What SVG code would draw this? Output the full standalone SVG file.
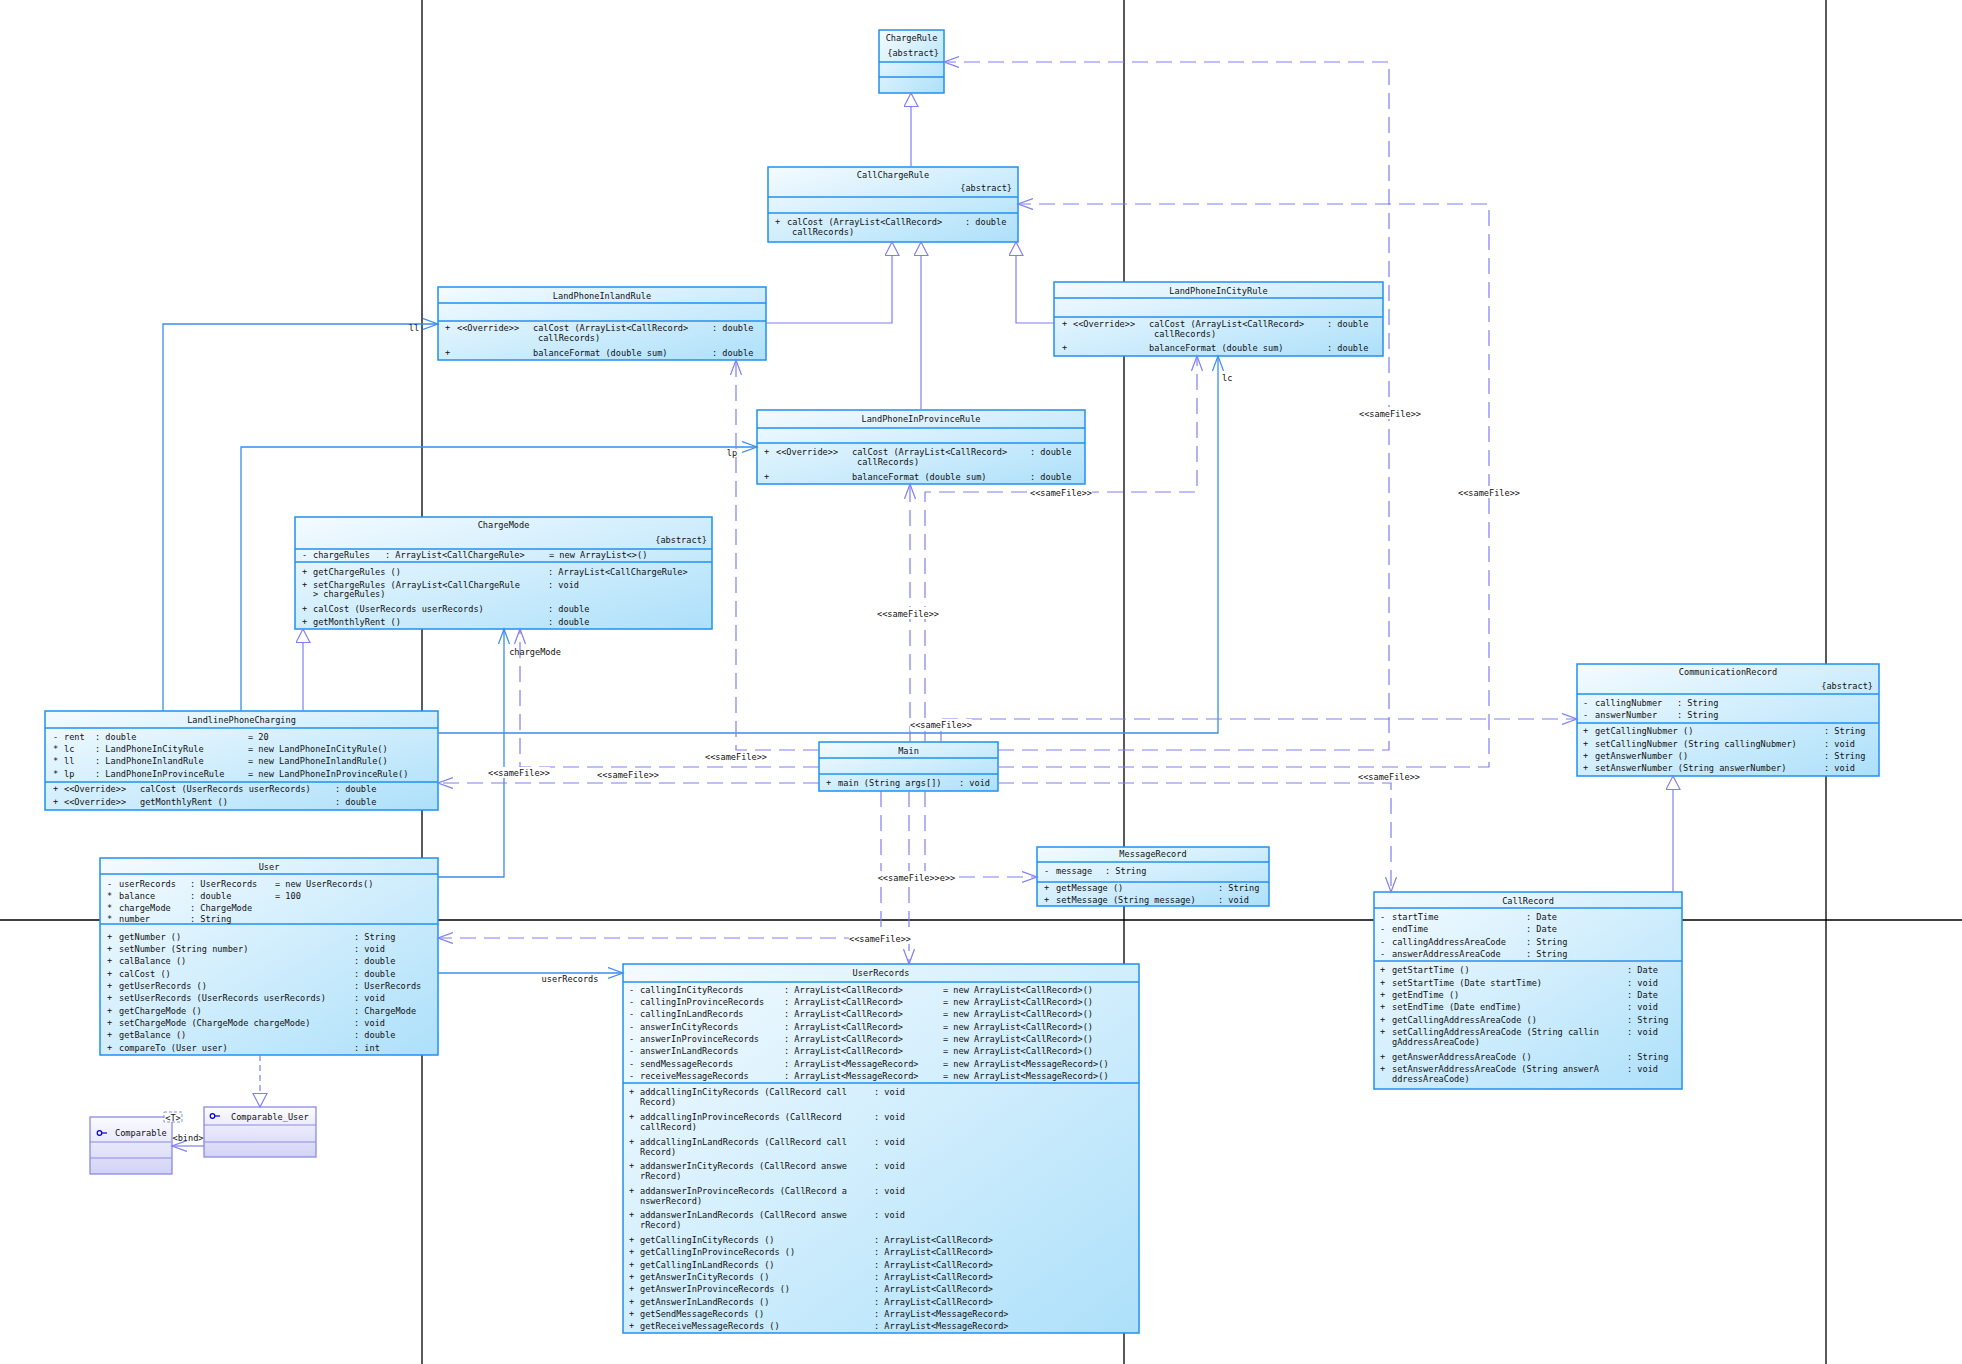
<svg xmlns="http://www.w3.org/2000/svg" width="1962" height="1364" viewBox="0 0 1962 1364">
<defs>
<linearGradient id="gb" x1="0" y1="0" x2="1" y2="1">
<stop offset="0" stop-color="#f4fbff"/>
<stop offset="1" stop-color="#ade0fa"/>
</linearGradient>
<linearGradient id="gp" x1="0" y1="0" x2="0" y2="1">
<stop offset="0" stop-color="#fbfbff"/>
<stop offset="1" stop-color="#d2d2f6"/>
</linearGradient>
<marker id="oP" markerUnits="userSpaceOnUse" markerWidth="18" markerHeight="14" refX="15" refY="6" orient="auto">
<path d="M0,0.5 L15,6 L0,11.5" fill="none" stroke="#7f7ff2" stroke-width="1.2"/>
</marker>
<marker id="oB" markerUnits="userSpaceOnUse" markerWidth="18" markerHeight="14" refX="15" refY="6" orient="auto">
<path d="M0,0.5 L15,6 L0,11.5" fill="none" stroke="#3b8cf0" stroke-width="1.2"/>
</marker>
<marker id="tri" markerUnits="userSpaceOnUse" markerWidth="18" markerHeight="18" refX="14" refY="7.5" orient="auto">
<path d="M0.5,0.5 L14,7.5 L0.5,14.5 Z" fill="#fff" stroke="#7f7ff2" stroke-width="1.2"/>
</marker>
</defs>
<style>
.box{fill:url(#gb);stroke:#2090f0;stroke-width:1.5}
.dv{stroke:#2090f0;stroke-width:1.3}
.pbox{fill:url(#gp);stroke:#8a8ae6;stroke-width:1.3}
.pdv{stroke:#8a8ae6;stroke-width:1}
.t{font-family:'DejaVu Sans Mono','Liberation Mono',monospace;font-size:8.6px;fill:#111}
.c{text-anchor:middle}
.e{text-anchor:end}
.pg{stroke:#000;stroke-width:1.3}
.gen{fill:none;stroke:#7f7ff2;stroke-width:1.2;marker-end:url(#tri)}
.asc{fill:none;stroke:#3b8cf0;stroke-width:1.3;marker-end:url(#oB)}
.dep{fill:none;stroke:#7f7ff2;stroke-width:1.2;stroke-dasharray:16 8;marker-end:url(#oP)}
.lb{fill:#fff}
.ic{fill:none;stroke:#0000d0;stroke-width:1.2}
</style>
<rect x="0" y="0" width="1962" height="1364" fill="#fff"/>
<g id="pagebreaks">
<line class="pg" x1="422" y1="0" x2="422" y2="1364"/>
<line class="pg" x1="1124" y1="0" x2="1124" y2="1364"/>
<line class="pg" x1="1826" y1="0" x2="1826" y2="1364"/>
<line class="pg" x1="0" y1="920" x2="1962" y2="920"/>
</g>

<g id="ChargeRule">
<rect class="box" x="879" y="30" width="65" height="63"/>
<line class="dv" x1="879" y1="62" x2="944" y2="62"/>
<line class="dv" x1="879" y1="77" x2="944" y2="77"/>
<text class="t c" x="911.5" y="40.5">ChargeRule</text>
<text class="t e" x="939" y="55.5">{abstract}</text>
</g>

<g id="CallChargeRule">
<rect class="box" x="768" y="167" width="250" height="75"/>
<line class="dv" x1="768" y1="197" x2="1018" y2="197"/>
<line class="dv" x1="768" y1="213" x2="1018" y2="213"/>
<text class="t c" x="893" y="177.5">CallChargeRule</text>
<text class="t e" x="1012" y="190.5">{abstract}</text>
<text class="t" x="775" y="224.5">+</text>
<text class="t" x="787" y="224.5">calCost (ArrayList&lt;CallRecord&gt;</text>
<text class="t" x="965" y="224.5">: double</text>
<text class="t" x="792" y="234.5">callRecords)</text>
</g>

<g id="LandPhoneInlandRule">
<rect class="box" x="438" y="287" width="328" height="73"/>
<line class="dv" x1="438" y1="303" x2="766" y2="303"/>
<line class="dv" x1="438" y1="321" x2="766" y2="321"/>
<text class="t c" x="602" y="298.5">LandPhoneInlandRule</text>
<text class="t" x="445" y="330.5">+</text>
<text class="t" x="457" y="330.5">&lt;&lt;Override&gt;&gt;</text>
<text class="t" x="533" y="330.5">calCost (ArrayList&lt;CallRecord&gt;</text>
<text class="t" x="712" y="330.5">: double</text>
<text class="t" x="538" y="340.5">callRecords)</text>
<text class="t" x="445" y="355.5">+</text>
<text class="t" x="533" y="355.5">balanceFormat (double sum)</text>
<text class="t" x="712" y="355.5">: double</text>
</g>

<g id="LandPhoneInCityRule">
<rect class="box" x="1054" y="282" width="329" height="74"/>
<line class="dv" x1="1054" y1="298" x2="1383" y2="298"/>
<line class="dv" x1="1054" y1="317" x2="1383" y2="317"/>
<text class="t c" x="1218.5" y="293.5">LandPhoneInCityRule</text>
<text class="t" x="1062" y="326.5">+</text>
<text class="t" x="1073" y="326.5">&lt;&lt;Override&gt;&gt;</text>
<text class="t" x="1149" y="326.5">calCost (ArrayList&lt;CallRecord&gt;</text>
<text class="t" x="1327" y="326.5">: double</text>
<text class="t" x="1154" y="336.5">callRecords)</text>
<text class="t" x="1062" y="350.5">+</text>
<text class="t" x="1149" y="350.5">balanceFormat (double sum)</text>
<text class="t" x="1327" y="350.5">: double</text>
</g>

<g id="LandPhoneInProvinceRule">
<rect class="box" x="757" y="410" width="328" height="74"/>
<line class="dv" x1="757" y1="428" x2="1085" y2="428"/>
<line class="dv" x1="757" y1="443" x2="1085" y2="443"/>
<text class="t c" x="921" y="421.5">LandPhoneInProvinceRule</text>
<text class="t" x="764" y="454.5">+</text>
<text class="t" x="776" y="454.5">&lt;&lt;Override&gt;&gt;</text>
<text class="t" x="852" y="454.5">calCost (ArrayList&lt;CallRecord&gt;</text>
<text class="t" x="1030" y="454.5">: double</text>
<text class="t" x="857" y="464.5">callRecords)</text>
<text class="t" x="764" y="479.5">+</text>
<text class="t" x="852" y="479.5">balanceFormat (double sum)</text>
<text class="t" x="1030" y="479.5">: double</text>
</g>

<g id="ChargeMode">
<rect class="box" x="295" y="517" width="417" height="112"/>
<line class="dv" x1="295" y1="549" x2="712" y2="549"/>
<line class="dv" x1="295" y1="562" x2="712" y2="562"/>
<text class="t c" x="503.5" y="527.5">ChargeMode</text>
<text class="t e" x="707" y="542.5">{abstract}</text>
<text class="t" x="302" y="557.5">-</text>
<text class="t" x="313" y="557.5">chargeRules</text>
<text class="t" x="385" y="557.5">: ArrayList&lt;CallChargeRule&gt;</text>
<text class="t" x="549" y="557.5">= new ArrayList&lt;&gt;()</text>
<text class="t" x="302" y="574.5">+</text>
<text class="t" x="313" y="574.5">getChargeRules ()</text>
<text class="t" x="548" y="574.5">: ArrayList&lt;CallChargeRule&gt;</text>
<text class="t" x="302" y="587.5">+</text>
<text class="t" x="313" y="587.5">setChargeRules (ArrayList&lt;CallChargeRule</text>
<text class="t" x="548" y="587.5">: void</text>
<text class="t" x="313" y="596.5">&gt; chargeRules)</text>
<text class="t" x="302" y="611.5">+</text>
<text class="t" x="313" y="611.5">calCost (UserRecords userRecords)</text>
<text class="t" x="548" y="611.5">: double</text>
<text class="t" x="302" y="624.5">+</text>
<text class="t" x="313" y="624.5">getMonthlyRent ()</text>
<text class="t" x="548" y="624.5">: double</text>
</g>

<g id="LandlinePhoneCharging">
<rect class="box" x="45" y="711" width="393" height="99"/>
<line class="dv" x1="45" y1="728" x2="438" y2="728"/>
<line class="dv" x1="45" y1="782" x2="438" y2="782"/>
<text class="t c" x="241.5" y="722.5">LandlinePhoneCharging</text>
<text class="t" x="53" y="739.5">-</text><text class="t" x="64" y="739.5">rent</text><text class="t" x="95" y="739.5">: double</text><text class="t" x="248" y="739.5">= 20</text>
<text class="t" x="53" y="751.5">*</text><text class="t" x="64" y="751.5">lc</text><text class="t" x="95" y="751.5">: LandPhoneInCityRule</text><text class="t" x="248" y="751.5">= new LandPhoneInCityRule()</text>
<text class="t" x="53" y="763.5">*</text><text class="t" x="64" y="763.5">ll</text><text class="t" x="95" y="763.5">: LandPhoneInlandRule</text><text class="t" x="248" y="763.5">= new LandPhoneInlandRule()</text>
<text class="t" x="53" y="776.5">*</text><text class="t" x="64" y="776.5">lp</text><text class="t" x="95" y="776.5">: LandPhoneInProvinceRule</text><text class="t" x="248" y="776.5">= new LandPhoneInProvinceRule()</text>
<text class="t" x="53" y="791.5">+</text><text class="t" x="64" y="791.5">&lt;&lt;Override&gt;&gt;</text><text class="t" x="140" y="791.5">calCost (UserRecords userRecords)</text><text class="t" x="335" y="791.5">: double</text>
<text class="t" x="53" y="804.5">+</text><text class="t" x="64" y="804.5">&lt;&lt;Override&gt;&gt;</text><text class="t" x="140" y="804.5">getMonthlyRent ()</text><text class="t" x="335" y="804.5">: double</text>
</g>

<g id="Main">
<rect class="box" x="819" y="742" width="179" height="49"/>
<line class="dv" x1="819" y1="758" x2="998" y2="758"/>
<line class="dv" x1="819" y1="774" x2="998" y2="774"/>
<text class="t c" x="908.5" y="753.5">Main</text>
<text class="t" x="826" y="785.5">+</text>
<text class="t" x="838" y="785.5">main (String args[])</text>
<text class="t" x="959" y="785.5">: void</text>
</g>

<g id="MessageRecord">
<rect class="box" x="1037" y="847" width="232" height="59"/>
<line class="dv" x1="1037" y1="862" x2="1269" y2="862"/>
<line class="dv" x1="1037" y1="882" x2="1269" y2="882"/>
<text class="t c" x="1153" y="856.5">MessageRecord</text>
<text class="t" x="1044" y="873.5">-</text><text class="t" x="1056" y="873.5">message</text><text class="t" x="1105" y="873.5">: String</text>
<text class="t" x="1044" y="890.5">+</text><text class="t" x="1056" y="890.5">getMessage ()</text><text class="t" x="1218" y="890.5">: String</text>
<text class="t" x="1044" y="902.5">+</text><text class="t" x="1056" y="902.5">setMessage (String message)</text><text class="t" x="1218" y="902.5">: void</text>
</g>

<g id="User">
<rect class="box" x="100" y="858" width="338" height="197"/>
<line class="dv" x1="100" y1="874" x2="438" y2="874"/>
<line class="dv" x1="100" y1="924" x2="438" y2="924"/>
<text class="t c" x="269" y="869.5">User</text>
<text class="t" x="107" y="886.5">-</text><text class="t" x="119" y="886.5">userRecords</text><text class="t" x="190" y="886.5">: UserRecords</text><text class="t" x="275" y="886.5">= new UserRecords()</text>
<text class="t" x="107" y="898.5">*</text><text class="t" x="119" y="898.5">balance</text><text class="t" x="190" y="898.5">: double</text><text class="t" x="275" y="898.5">= 100</text>
<text class="t" x="107" y="910.5">*</text><text class="t" x="119" y="910.5">chargeMode</text><text class="t" x="190" y="910.5">: ChargeMode</text>
<text class="t" x="107" y="922">*</text><text class="t" x="119" y="922">number</text><text class="t" x="190" y="922">: String</text>
<text class="t" x="107" y="939.5">+</text><text class="t" x="119" y="939.5">getNumber ()</text><text class="t" x="354" y="939.5">: String</text>
<text class="t" x="107" y="951.5">+</text><text class="t" x="119" y="951.5">setNumber (String number)</text><text class="t" x="354" y="951.5">: void</text>
<text class="t" x="107" y="963.5">+</text><text class="t" x="119" y="963.5">calBalance ()</text><text class="t" x="354" y="963.5">: double</text>
<text class="t" x="107" y="976.5">+</text><text class="t" x="119" y="976.5">calCost ()</text><text class="t" x="354" y="976.5">: double</text>
<text class="t" x="107" y="988.5">+</text><text class="t" x="119" y="988.5">getUserRecords ()</text><text class="t" x="354" y="988.5">: UserRecords</text>
<text class="t" x="107" y="1000.5">+</text><text class="t" x="119" y="1000.5">setUserRecords (UserRecords userRecords)</text><text class="t" x="354" y="1000.5">: void</text>
<text class="t" x="107" y="1013.5">+</text><text class="t" x="119" y="1013.5">getChargeMode ()</text><text class="t" x="354" y="1013.5">: ChargeMode</text>
<text class="t" x="107" y="1025.5">+</text><text class="t" x="119" y="1025.5">setChargeMode (ChargeMode chargeMode)</text><text class="t" x="354" y="1025.5">: void</text>
<text class="t" x="107" y="1037.5">+</text><text class="t" x="119" y="1037.5">getBalance ()</text><text class="t" x="354" y="1037.5">: double</text>
<text class="t" x="107" y="1050.5">+</text><text class="t" x="119" y="1050.5">compareTo (User user)</text><text class="t" x="354" y="1050.5">: int</text>
</g>

<g id="UserRecords">
<rect class="box" x="623" y="964" width="516" height="369"/>
<line class="dv" x1="623" y1="982" x2="1139" y2="982"/>
<line class="dv" x1="623" y1="1083" x2="1139" y2="1083"/>
<text class="t c" x="881" y="975.5">UserRecords</text>
<text class="t" x="629" y="992.5">-</text><text class="t" x="640" y="992.5">callingInCityRecords</text><text class="t" x="784" y="992.5">: ArrayList&lt;CallRecord&gt;</text><text class="t" x="943" y="992.5">= new ArrayList&lt;CallRecord&gt;()</text>
<text class="t" x="629" y="1004.5">-</text><text class="t" x="640" y="1004.5">callingInProvinceRecords</text><text class="t" x="784" y="1004.5">: ArrayList&lt;CallRecord&gt;</text><text class="t" x="943" y="1004.5">= new ArrayList&lt;CallRecord&gt;()</text>
<text class="t" x="629" y="1016.5">-</text><text class="t" x="640" y="1016.5">callingInLandRecords</text><text class="t" x="784" y="1016.5">: ArrayList&lt;CallRecord&gt;</text><text class="t" x="943" y="1016.5">= new ArrayList&lt;CallRecord&gt;()</text>
<text class="t" x="629" y="1029.5">-</text><text class="t" x="640" y="1029.5">answerInCityRecords</text><text class="t" x="784" y="1029.5">: ArrayList&lt;CallRecord&gt;</text><text class="t" x="943" y="1029.5">= new ArrayList&lt;CallRecord&gt;()</text>
<text class="t" x="629" y="1041.5">-</text><text class="t" x="640" y="1041.5">answerInProvinceRecords</text><text class="t" x="784" y="1041.5">: ArrayList&lt;CallRecord&gt;</text><text class="t" x="943" y="1041.5">= new ArrayList&lt;CallRecord&gt;()</text>
<text class="t" x="629" y="1053.5">-</text><text class="t" x="640" y="1053.5">answerInLandRecords</text><text class="t" x="784" y="1053.5">: ArrayList&lt;CallRecord&gt;</text><text class="t" x="943" y="1053.5">= new ArrayList&lt;CallRecord&gt;()</text>
<text class="t" x="629" y="1066.5">-</text><text class="t" x="640" y="1066.5">sendMessageRecords</text><text class="t" x="784" y="1066.5">: ArrayList&lt;MessageRecord&gt;</text><text class="t" x="943" y="1066.5">= new ArrayList&lt;MessageRecord&gt;()</text>
<text class="t" x="629" y="1078.5">-</text><text class="t" x="640" y="1078.5">receiveMessageRecords</text><text class="t" x="784" y="1078.5">: ArrayList&lt;MessageRecord&gt;</text><text class="t" x="943" y="1078.5">= new ArrayList&lt;MessageRecord&gt;()</text>
<text class="t" x="629" y="1094.5">+</text><text class="t" x="640" y="1094.5">addcallingInCityRecords (CallRecord call</text><text class="t" x="874" y="1094.5">: void</text>
<text class="t" x="640" y="1104.5">Record)</text>
<text class="t" x="629" y="1119.5">+</text><text class="t" x="640" y="1119.5">addcallingInProvinceRecords (CallRecord</text><text class="t" x="874" y="1119.5">: void</text>
<text class="t" x="640" y="1129.5">callRecord)</text>
<text class="t" x="629" y="1144.5">+</text><text class="t" x="640" y="1144.5">addcallingInLandRecords (CallRecord call</text><text class="t" x="874" y="1144.5">: void</text>
<text class="t" x="640" y="1154.5">Record)</text>
<text class="t" x="629" y="1168.5">+</text><text class="t" x="640" y="1168.5">addanswerInCityRecords (CallRecord answe</text><text class="t" x="874" y="1168.5">: void</text>
<text class="t" x="640" y="1178.5">rRecord)</text>
<text class="t" x="629" y="1193.5">+</text><text class="t" x="640" y="1193.5">addanswerInProvinceRecords (CallRecord a</text><text class="t" x="874" y="1193.5">: void</text>
<text class="t" x="640" y="1203.5">nswerRecord)</text>
<text class="t" x="629" y="1217.5">+</text><text class="t" x="640" y="1217.5">addanswerInLandRecords (CallRecord answe</text><text class="t" x="874" y="1217.5">: void</text>
<text class="t" x="640" y="1227.5">rRecord)</text>
<text class="t" x="629" y="1242.5">+</text><text class="t" x="640" y="1242.5">getCallingInCityRecords ()</text><text class="t" x="874" y="1242.5">: ArrayList&lt;CallRecord&gt;</text>
<text class="t" x="629" y="1254.5">+</text><text class="t" x="640" y="1254.5">getCallingInProvinceRecords ()</text><text class="t" x="874" y="1254.5">: ArrayList&lt;CallRecord&gt;</text>
<text class="t" x="629" y="1267.5">+</text><text class="t" x="640" y="1267.5">getCallingInLandRecords ()</text><text class="t" x="874" y="1267.5">: ArrayList&lt;CallRecord&gt;</text>
<text class="t" x="629" y="1279.5">+</text><text class="t" x="640" y="1279.5">getAnswerInCityRecords ()</text><text class="t" x="874" y="1279.5">: ArrayList&lt;CallRecord&gt;</text>
<text class="t" x="629" y="1291.5">+</text><text class="t" x="640" y="1291.5">getAnswerInProvinceRecords ()</text><text class="t" x="874" y="1291.5">: ArrayList&lt;CallRecord&gt;</text>
<text class="t" x="629" y="1304.5">+</text><text class="t" x="640" y="1304.5">getAnswerInLandRecords ()</text><text class="t" x="874" y="1304.5">: ArrayList&lt;CallRecord&gt;</text>
<text class="t" x="629" y="1316.5">+</text><text class="t" x="640" y="1316.5">getSendMessageRecords ()</text><text class="t" x="874" y="1316.5">: ArrayList&lt;MessageRecord&gt;</text>
<text class="t" x="629" y="1328.5">+</text><text class="t" x="640" y="1328.5">getReceiveMessageRecords ()</text><text class="t" x="874" y="1328.5">: ArrayList&lt;MessageRecord&gt;</text>
</g>

<g id="CommunicationRecord">
<rect class="box" x="1577" y="664" width="302" height="112"/>
<line class="dv" x1="1577" y1="694" x2="1879" y2="694"/>
<line class="dv" x1="1577" y1="723" x2="1879" y2="723"/>
<text class="t c" x="1728" y="674.5">CommunicationRecord</text>
<text class="t e" x="1873" y="688.5">{abstract}</text>
<text class="t" x="1583" y="705.5">-</text><text class="t" x="1595" y="705.5">callingNubmer</text><text class="t" x="1677" y="705.5">: String</text>
<text class="t" x="1583" y="717.5">-</text><text class="t" x="1595" y="717.5">answerNumber</text><text class="t" x="1677" y="717.5">: String</text>
<text class="t" x="1583" y="733.5">+</text><text class="t" x="1595" y="733.5">getCallingNubmer ()</text><text class="t" x="1824" y="733.5">: String</text>
<text class="t" x="1583" y="746.5">+</text><text class="t" x="1595" y="746.5">setCallingNubmer (String callingNubmer)</text><text class="t" x="1824" y="746.5">: void</text>
<text class="t" x="1583" y="758.5">+</text><text class="t" x="1595" y="758.5">getAnswerNumber ()</text><text class="t" x="1824" y="758.5">: String</text>
<text class="t" x="1583" y="770.5">+</text><text class="t" x="1595" y="770.5">setAnswerNumber (String answerNumber)</text><text class="t" x="1824" y="770.5">: void</text>
</g>

<g id="CallRecord">
<rect class="box" x="1374" y="892" width="308" height="197"/>
<line class="dv" x1="1374" y1="908" x2="1682" y2="908"/>
<line class="dv" x1="1374" y1="961" x2="1682" y2="961"/>
<text class="t c" x="1528" y="903.5">CallRecord</text>
<text class="t" x="1380" y="919.5">-</text><text class="t" x="1392" y="919.5">startTime</text><text class="t" x="1526" y="919.5">: Date</text>
<text class="t" x="1380" y="931.5">-</text><text class="t" x="1392" y="931.5">endTime</text><text class="t" x="1526" y="931.5">: Date</text>
<text class="t" x="1380" y="944.5">-</text><text class="t" x="1392" y="944.5">callingAddressAreaCode</text><text class="t" x="1526" y="944.5">: String</text>
<text class="t" x="1380" y="956.5">-</text><text class="t" x="1392" y="956.5">answerAddressAreaCode</text><text class="t" x="1526" y="956.5">: String</text>
<text class="t" x="1380" y="972.5">+</text><text class="t" x="1392" y="972.5">getStartTime ()</text><text class="t" x="1627" y="972.5">: Date</text>
<text class="t" x="1380" y="985.5">+</text><text class="t" x="1392" y="985.5">setStartTime (Date startTime)</text><text class="t" x="1627" y="985.5">: void</text>
<text class="t" x="1380" y="997.5">+</text><text class="t" x="1392" y="997.5">getEndTime ()</text><text class="t" x="1627" y="997.5">: Date</text>
<text class="t" x="1380" y="1009.5">+</text><text class="t" x="1392" y="1009.5">setEndTime (Date endTime)</text><text class="t" x="1627" y="1009.5">: void</text>
<text class="t" x="1380" y="1022.5">+</text><text class="t" x="1392" y="1022.5">getCallingAddressAreaCode ()</text><text class="t" x="1627" y="1022.5">: String</text>
<text class="t" x="1380" y="1034.5">+</text><text class="t" x="1392" y="1034.5">setCallingAddressAreaCode (String callin</text><text class="t" x="1627" y="1034.5">: void</text>
<text class="t" x="1392" y="1044.5">gAddressAreaCode)</text>
<text class="t" x="1380" y="1059.5">+</text><text class="t" x="1392" y="1059.5">getAnswerAddressAreaCode ()</text><text class="t" x="1627" y="1059.5">: String</text>
<text class="t" x="1380" y="1071.5">+</text><text class="t" x="1392" y="1071.5">setAnswerAddressAreaCode (String answerA</text><text class="t" x="1627" y="1071.5">: void</text>
<text class="t" x="1392" y="1081.5">ddressAreaCode)</text>
</g>

<g id="Comparable">
<rect class="pbox" x="90" y="1117" width="82" height="57"/>
<line class="pdv" x1="90" y1="1142" x2="172" y2="1142"/>
<line class="pdv" x1="90" y1="1158" x2="172" y2="1158"/>
<rect x="164" y="1112" width="18" height="10" fill="#fff" stroke="#8a8ae6" stroke-width="1" stroke-dasharray="3 2"/>
<text class="t c" x="173" y="1120.5">&lt;T&gt;</text>
<circle class="ic" cx="99.5" cy="1133" r="2.3"/>
<line class="ic" x1="101.8" y1="1133" x2="107" y2="1133"/>
<text class="t" x="115" y="1135.5">Comparable</text>
</g>

<g id="Comparable_User">
<rect class="pbox" x="204" y="1107" width="112" height="50"/>
<line class="pdv" x1="204" y1="1125" x2="316" y2="1125"/>
<line class="pdv" x1="204" y1="1142" x2="316" y2="1142"/>
<circle class="ic" cx="212.5" cy="1116" r="2.3"/>
<line class="ic" x1="214.8" y1="1116" x2="220" y2="1116"/>
<text class="t" x="231" y="1119.5">Comparable_User</text>
</g>

<g id="connectors">
<path class="gen" d="M911,167 V93"/>
<path class="gen" d="M766,323 H892 V242"/>
<path class="gen" d="M921,410 V242"/>
<path class="gen" d="M1054,323 H1016 V242"/>
<path class="gen" d="M303,711 V629"/>
<path class="gen" d="M1673,892 V776"/>
<path class="asc" d="M163,711 V324 H438"/>
<path class="asc" d="M241,711 V447 H757"/>
<path class="asc" d="M438,733 H1218 V356"/>
<path class="asc" d="M438,877 H504 V629"/>
<path class="asc" d="M438,973 H623"/>
<path class="dep" d="M998,750 H1389 V62 H944"/>
<path class="dep" d="M998,767 H1489 V204 H1018"/>
<path class="dep" d="M998,783 H1391 V892"/>
<path class="dep" d="M941,742 V719 H1577"/>
<path class="dep" d="M925,742 V492 H1197 V356"/>
<path class="dep" d="M910,742 V484"/>
<path class="dep" d="M819,750 H736 V360"/>
<path class="dep" d="M819,767 H520 V629"/>
<path class="dep" d="M819,783 H438"/>
<path class="dep" d="M881,791 V938 H438"/>
<path class="dep" d="M909,791 V964"/>
<path class="dep" d="M925,791 V877 H1037"/>
<path d="M260,1055 V1107" fill="none" stroke="#7f7ff2" stroke-width="1.2" stroke-dasharray="6 4" marker-end="url(#tri)"/>
<path d="M204,1146 H172" fill="none" stroke="#7f7ff2" stroke-width="1.2" marker-end="url(#oP)"/>
<g id="labels">
<rect class="lb" x="1359" y="407" width="62" height="12"/><text class="t c" x="1390" y="416.5">&lt;&lt;sameFile&gt;&gt;</text>
<rect class="lb" x="1458" y="486" width="62" height="12"/><text class="t c" x="1489" y="495.5">&lt;&lt;sameFile&gt;&gt;</text>
<rect class="lb" x="910" y="719" width="62" height="12"/><text class="t c" x="941" y="728">&lt;&lt;sameFile&gt;&gt;</text>
<rect class="lb" x="1358" y="770" width="62" height="12"/><text class="t c" x="1389" y="779.5">&lt;&lt;sameFile&gt;&gt;</text>
<rect class="lb" x="1030" y="486" width="62" height="12"/><text class="t c" x="1061" y="495.5">&lt;&lt;sameFile&gt;&gt;</text>
<rect class="lb" x="877" y="607" width="62" height="12"/><text class="t c" x="908" y="616.5">&lt;&lt;sameFile&gt;&gt;</text>
<rect class="lb" x="705" y="751" width="62" height="11"/><text class="t c" x="736" y="759.5">&lt;&lt;sameFile&gt;&gt;</text>
<rect class="lb" x="488" y="767" width="62" height="11"/><text class="t c" x="519" y="775.5">&lt;&lt;sameFile&gt;&gt;</text>
<rect class="lb" x="597" y="769" width="62" height="11"/><text class="t c" x="628" y="778">&lt;&lt;sameFile&gt;&gt;</text>
<rect class="lb" x="849" y="932" width="62" height="12"/><text class="t c" x="880" y="941.5">&lt;&lt;sameFile&gt;&gt;</text>
<rect class="lb" x="877" y="871" width="79" height="12"/><text class="t c" x="916.5" y="880.5">&lt;&lt;sameFile&gt;&gt;e&gt;&gt;</text>
<text class="t c" x="414" y="331">ll</text>
<text class="t c" x="732" y="455.5">lp</text>
<text class="t" x="1222" y="380.5">lc</text>
<text class="t c" x="535" y="654.5">chargeMode</text>
<text class="t c" x="570" y="981.5">userRecords</text>
<text class="t c" x="188" y="1141">&lt;bind&gt;</text>
</g>
</g>
</svg>
